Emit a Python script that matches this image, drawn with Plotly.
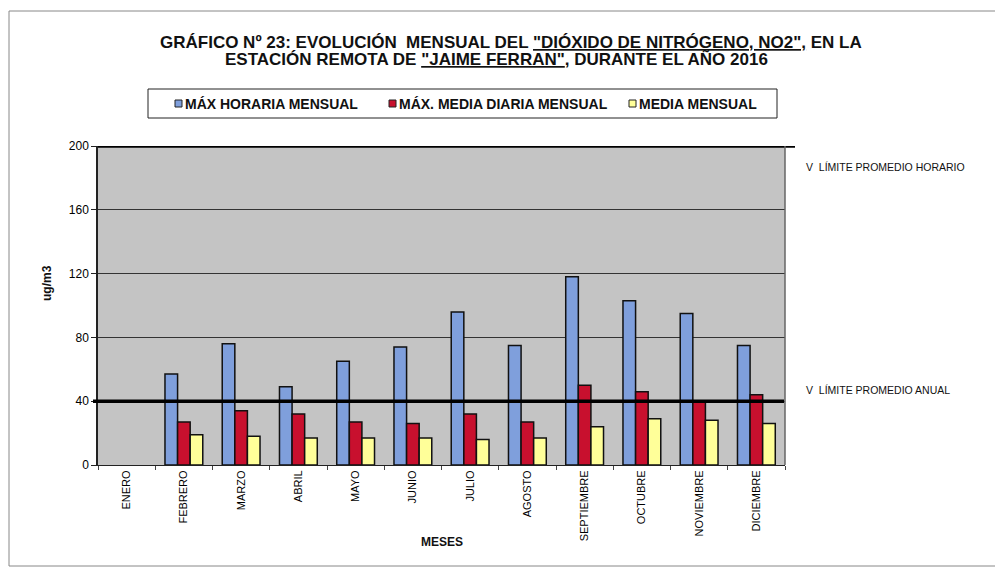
import plotly.graph_objects as go

meses = ["ENERO", "FEBRERO", "MARZO", "ABRIL", "MAYO", "JUNIO", "JULIO",
         "AGOSTO", "SEPTIEMBRE", "OCTUBRE", "NOVIEMBRE", "DICIEMBRE"]
max_horaria = [None, 57, 76, 49, 65, 74, 96, 75, 118, 103, 95, 75]
max_media_diaria = [None, 27, 34, 32, 27, 26, 32, 27, 50, 46, 40, 44]
media_mensual = [None, 19, 18, 17, 17, 17, 16, 17, 24, 29, 28, 26]
series_names = ["MÁX HORARIA MENSUAL", "MÁX. MEDIA DIARIA MENSUAL", "MEDIA MENSUAL"]
series_colors = ["#7f9fdc", "#c8102e", "#ffff99"]
limite_horario = 200
limite_anual = 40

FONT = "Liberation Sans, Arial, sans-serif"

fig = go.Figure()
for name, vals, col in zip(series_names, [max_horaria, max_media_diaria, media_mensual], series_colors):
    fig.add_trace(go.Bar(
        x=meses, y=vals, name=name, showlegend=False,
        marker=dict(color=col, line=dict(color="#111111", width=1.5)),
    ))

# page body has an 8px margin; image coordinates below are screen pixels
OFF = 8
W, H = 1003 - OFF, 576 - OFF
PX_L, PX_R, PX_T, PX_B = 98, 785, 146, 465   # plot area in screen pixels
L = PX_L - OFF
T = PX_T - OFF
R = W - (PX_R - OFF)
B = H - (PX_B - OFF)
pw = PX_R - PX_L
ph = PX_B - PX_T

def px_x(x):
    return (x - PX_L) / pw

def px_y(y):
    return (PX_B - y) / ph

fig.update_layout(
    width=W, height=H,
    margin=dict(l=L, r=R, t=T, b=B, autoexpand=False),
    paper_bgcolor="white",
    plot_bgcolor="#c4c4c4",
    barmode="group",
    bargap=0.34,
    bargroupgap=0,
    showlegend=False,
    font=dict(family=FONT, color="#111111", size=10),
    xaxis=dict(
        tickangle=-90,
        tickfont=dict(size=11, family=FONT, color="#000000"),
        showline=True, linecolor="#222222", linewidth=1,
        ticks="outside", tickson="boundaries", ticklen=4, tickcolor="#444444",
        showgrid=False,
        range=[-0.5, 11.5],
    ),
    yaxis=dict(
        range=[0, 200],
        tickvals=[0, 40, 80, 120, 160, 200],
        tickfont=dict(size=12, family=FONT, color="#000000"),
        showline=True, linecolor="#222222", linewidth=1.5,
        ticks="outside", ticklen=5, tickcolor="#222222",
        showgrid=True, gridcolor="#333333", gridwidth=1,
        zeroline=False,
    ),
)

# title (two lines)
fig.add_annotation(
    text="<b>GRÁFICO Nº 23: EVOLUCIÓN  MENSUAL DEL <u>\"DIÓXIDO DE NITRÓGENO, NO2\",</u> EN LA</b>",
    xref="paper", yref="paper", x=px_x(511), y=px_y(42), xanchor="center", yanchor="middle",
    showarrow=False, font=dict(size=17, family=FONT, color="#111111"))
fig.add_annotation(
    text="<b>ESTACIÓN REMOTA DE <u>\"JAIME FERRAN\"</u>, DURANTE EL AÑO 2016</b>",
    xref="paper", yref="paper", x=px_x(496), y=px_y(59), xanchor="center", yanchor="middle",
    showarrow=False, font=dict(size=17, family=FONT, color="#111111"))

# legend box (custom)
fig.add_shape(type="rect", xref="paper", yref="paper",
              x0=px_x(148), x1=px_x(777), y0=px_y(118), y1=px_y(89),
              line=dict(color="#222222", width=1), fillcolor="white")
leg_sq_x = [175, 389, 629]
for name, col, sx in zip(series_names, series_colors, leg_sq_x):
    fig.add_shape(type="rect", xref="paper", yref="paper",
                  x0=px_x(sx), x1=px_x(sx + 7), y0=px_y(107), y1=px_y(100),
                  line=dict(color="#222222", width=1), fillcolor=col)
    fig.add_annotation(text="<b>" + name + "</b>", xref="paper", yref="paper",
                       x=px_x(sx + 8), y=px_y(103.5), xanchor="left", yanchor="middle",
                       showarrow=False, font=dict(size=14, family=FONT, color="#111111"))

# axis titles
fig.add_annotation(text="<b>MESES</b>", xref="paper", yref="paper",
                   x=px_x(442), y=px_y(542), xanchor="center", yanchor="middle",
                   showarrow=False, font=dict(size=12, family=FONT))
fig.add_annotation(text="<b>ug/m3</b>", xref="paper", yref="paper",
                   x=px_x(47), y=px_y(283), xanchor="center", yanchor="middle", textangle=-90,
                   showarrow=False, font=dict(size=12, family=FONT))

# limit lines
fig.add_shape(type="line", xref="paper", yref="y", x0=0, x1=px_x(795),
              y0=limite_horario, y1=limite_horario,
              line=dict(color="black", width=3.5), layer="above")
fig.add_shape(type="line", xref="paper", yref="y", x0=px_x(93), x1=px_x(784),
              y0=limite_anual, y1=limite_anual,
              line=dict(color="black", width=3.5), layer="above")
# plot right border
fig.add_shape(type="line", xref="paper", yref="paper", x0=1, x1=1, y0=0, y1=1,
              line=dict(color="#666666", width=1.5))
# outer frame
fig.add_shape(type="rect", xref="paper", yref="paper",
              x0=px_x(9), x1=px_x(999), y0=px_y(566), y1=px_y(11),
              line=dict(color="#888888", width=1))

fig.add_annotation(text="V  LÍMITE PROMEDIO HORARIO", xref="paper", yref="paper",
                   x=px_x(804), y=px_y(167), xanchor="left", yanchor="middle",
                   showarrow=False, font=dict(size=10.5, family=FONT))
fig.add_annotation(text="V  LÍMITE PROMEDIO ANUAL", xref="paper", yref="paper",
                   x=px_x(804), y=px_y(390), xanchor="left", yanchor="middle",
                   showarrow=False, font=dict(size=10.5, family=FONT))

fig.write_html("out.html")
